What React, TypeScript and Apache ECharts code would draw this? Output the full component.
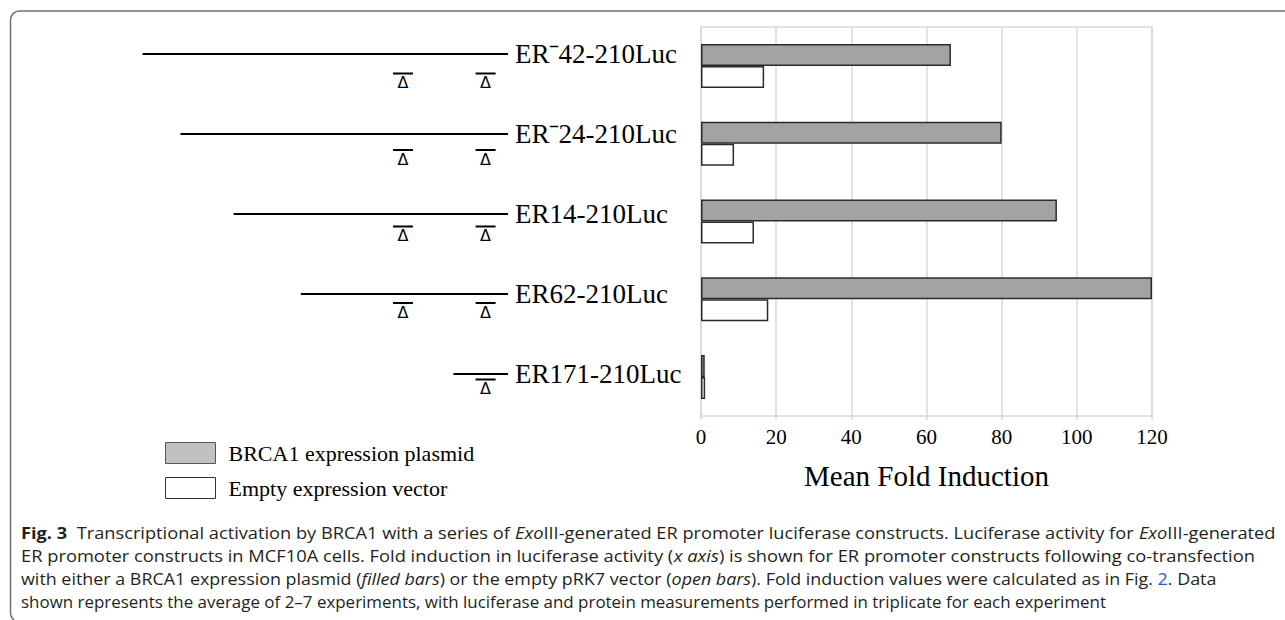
import React, { useEffect, useRef } from "react";
import * as echarts from "echarts";

// ---------- data ----------
const constructs = ["ERˉ42-210Luc", "ERˉ24-210Luc", "ER14-210Luc", "ER62-210Luc", "ER171-210Luc"];
const brca1Values = [66.5, 80, 94.7, 120, 1];
const emptyValues = [16.8, 8.8, 14.1, 17.9, 1.1];
const constructStarts = [-51, -24, 14, 62, 171];
const constructEnd = 210;
const deletionSites = [135, 194];
const seriesNames = ["BRCA1 expression plasmid", "Empty expression vector"];
const axisTitle = "Mean Fold Induction";
const xMin = 0;
const xMax = 120;
const xInterval = 20;

type Seg = [string, string];
const captionLines: Seg[][] = [
  [
    ["b", "Fig. 3"],
    ["n", "  Transcriptional activation by BRCA1 with a series of "],
    ["i", "Exo"],
    ["n", "III-generated ER promoter luciferase constructs. Luciferase activity for "],
    ["i", "Exo"],
    ["n", "III-generated"],
  ],
  [
    ["n", "ER promoter constructs in MCF10A cells. Fold induction in luciferase activity ("],
    ["i", "x axis"],
    ["n", ") is shown for ER promoter constructs following co-transfection"],
  ],
  [
    ["n", "with either a BRCA1 expression plasmid ("],
    ["i", "filled bars"],
    ["n", ") or the empty pRK7 vector ("],
    ["i", "open bars"],
    ["n", "). Fold induction values were calculated as in Fig. "],
    ["l", "2"],
    ["n", ". Data"],
  ],
  [
    ["n", "shown represents the average of 2–7 experiments, with luciferase and protein measurements performed in triplicate for each experiment"],
  ],
];
// right ends of the caption lines
const captionLineEnds = [1276, 1255, 1216, 1107];

const SERIF = "Liberation Serif";
const SANS = "Open Sans";
const CAP_SIZE = 16;
const CAP_X = 21;

function segFont(kind: string) {
  if (kind === "b") return `bold ${CAP_SIZE}px "${SANS}"`;
  if (kind === "i") return `italic ${CAP_SIZE}px "${SANS}"`;
  return `${CAP_SIZE}px "${SANS}"`;
}

function measureLine(ctx: CanvasRenderingContext2D, line: Seg[]) {
  let w = 0;
  for (const [k, t] of line) {
    ctx.font = segFont(k);
    w += ctx.measureText(t).width;
  }
  return w;
}

export default function App() {
  const ref = useRef<HTMLDivElement>(null);

  useEffect(() => {
    if (!ref.current) return;
    const chart = echarts.init(ref.current, undefined, { renderer: "svg" });

    const canvas = document.createElement("canvas");
    const ctx = canvas.getContext("2d")!;

    const richStyles = {
      n: { fontFamily: SANS, fontSize: CAP_SIZE, fill: "#231f20" },
      b: { fontFamily: SANS, fontSize: CAP_SIZE, fontWeight: "bold", fill: "#231f20" },
      i: { fontFamily: SANS, fontSize: CAP_SIZE, fontStyle: "italic", fill: "#231f20" },
      l: { fontFamily: SANS, fontSize: CAP_SIZE, fill: "#2f55c8" },
    };

    const captionGraphics = captionLines.map((line, idx) => {
      const w = measureLine(ctx, line);
      const s = w > 0 ? (captionLineEnds[idx] - CAP_X) / w : 1;
      return {
        type: "text",
        x: CAP_X,
        y: 533 + idx * 23,
        scaleX: s,
        style: {
          text: line.map(([k, t]) => `{${k}|${t}}`).join(""),
          rich: richStyles,
          fontFamily: SANS,
          fontSize: CAP_SIZE,
          fill: "#231f20",
          align: "left",
          verticalAlign: "middle",
        },
      };
    });

    const deletionData: number[][] = [];
    constructStarts.forEach((s, i) => {
      deletionSites.forEach((d) => {
        if (d > s) deletionData.push([d, i]);
      });
    });

    chart.setOption({
      animation: false,
      grid: [
        { left: 701, width: 451, top: 27, height: 389, show: true, borderColor: "#d9d9d9", borderWidth: 1.5 },
        { left: 74, width: 434, top: 14, height: 400 },
        { left: 74, width: 434, top: 43.75, height: 382.5 },
      ],
      xAxis: [
        {
          gridIndex: 0,
          type: "value",
          min: xMin,
          max: xMax,
          interval: xInterval,
          axisLine: { show: false },
          axisTick: { show: true, length: 4, lineStyle: { color: "#d9d9d9", width: 1.5 } },
          splitLine: { show: true, lineStyle: { color: "#d9d9d9", width: 1.5 } },
          axisLabel: { fontFamily: SERIF, fontSize: 21, color: "#000", margin: 10 },
          name: axisTitle,
          nameLocation: "middle",
          nameGap: 45,
          nameTextStyle: { fontFamily: SERIF, fontSize: 29, color: "#000" },
        },
        { gridIndex: 1, type: "value", min: -100, max: constructEnd, show: false },
        { gridIndex: 2, type: "value", min: -100, max: constructEnd, show: false },
      ],
      yAxis: [
        { gridIndex: 0, type: "category", data: constructs, inverse: true, show: false },
        {
          gridIndex: 1,
          type: "category",
          data: constructs,
          inverse: true,
          position: "right",
          axisLine: { show: false },
          axisTick: { show: false },
          splitLine: { show: false },
          axisLabel: {
            margin: 7,
            fontFamily: SERIF,
            fontSize: 27,
            color: "#000",
            padding: [6, 0, 0, 0],
          },
        },
        { gridIndex: 2, type: "category", data: constructs, inverse: true, show: false },
      ],
      legend: {
        orient: "vertical",
        left: 160,
        top: 437,
        itemWidth: 50,
        itemHeight: 21,
        itemGap: 13,
        selectedMode: false,
        textStyle: { fontFamily: SERIF, fontSize: 22, color: "#000", padding: [3, 0, 0, 8] },
        data: [
          { name: seriesNames[0], icon: "rect", itemStyle: { color: "#c0c0c0", borderColor: "#555", borderWidth: 1 } },
          { name: seriesNames[1], icon: "rect", itemStyle: { color: "#fff", borderColor: "#333", borderWidth: 1 } },
        ],
      },
      series: [
        {
          name: seriesNames[0],
          type: "bar",
          xAxisIndex: 0,
          yAxisIndex: 0,
          data: brca1Values,
          barWidth: 22,
          barGap: "0%",
          itemStyle: { color: "#a3a3a3", borderColor: "#2b2b2b", borderWidth: 1.5 },
        },
        {
          name: seriesNames[1],
          type: "bar",
          xAxisIndex: 0,
          yAxisIndex: 0,
          data: emptyValues,
          barWidth: 22,
          barGap: "0%",
          itemStyle: { color: "#ffffff", borderColor: "#2b2b2b", borderWidth: 1.5 },
        },
        {
          type: "custom",
          xAxisIndex: 1,
          yAxisIndex: 1,
          data: constructStarts.map((s, i) => [s, i]),
          renderItem: (_p: any, api: any) => {
            const start = api.value(0);
            const cat = api.value(1);
            const p0 = api.coord([start, cat]);
            const p1 = api.coord([constructEnd, cat]);
            return {
              type: "line",
              shape: { x1: p0[0], y1: p0[1], x2: p1[0], y2: p1[1] },
              style: { stroke: "#000", lineWidth: 2 },
            };
          },
        },
        {
          type: "custom",
          xAxisIndex: 2,
          yAxisIndex: 2,
          data: deletionData,
          renderItem: (_p: any, api: any) => {
            const p = api.coord([api.value(0), api.value(1)]);
            return {
              type: "group",
              children: [
                {
                  type: "line",
                  shape: { x1: p[0] - 10, y1: p[1] - 8.5, x2: p[0] + 10, y2: p[1] - 8.5 },
                  style: { stroke: "#000", lineWidth: 2 },
                },
                {
                  type: "text",
                  style: {
                    text: "Δ",
                    x: p[0],
                    y: p[1] + 0.5,
                    align: "center",
                    verticalAlign: "middle",
                    font: '16px "DejaVu Sans"',
                    fill: "#000",
                  },
                },
              ],
            };
          },
        },
      ],
      graphic: [
        {
          type: "rect",
          shape: { x: 10.5, y: 11, width: 1400, height: 611, r: 9 },
          style: { fill: "none", stroke: "#707070", lineWidth: 1.5 },
          silent: true,
        },
        ...captionGraphics,
      ],
    });

    return () => chart.dispose();
  }, []);

  return (
    <div
      ref={ref}
      style={{ position: "fixed", left: 0, top: 0, width: 1285, height: 620, background: "#fff" }}
    />
  );
}
